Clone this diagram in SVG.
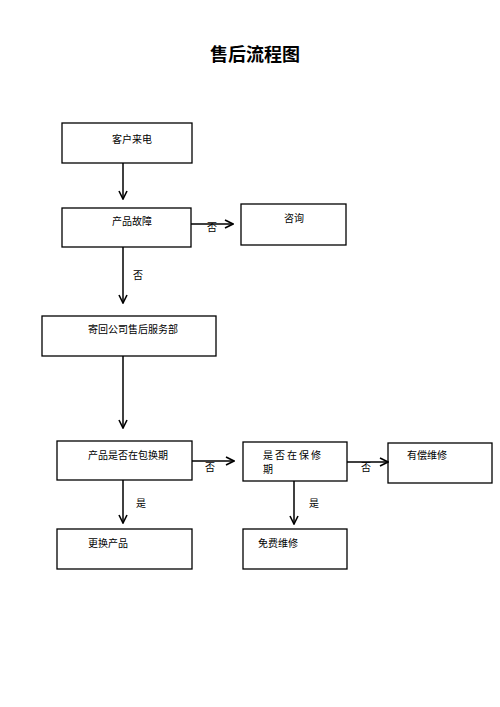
<svg xmlns="http://www.w3.org/2000/svg" width="500" height="707" viewBox="0 0 500 707">
<defs>
<marker id="arr" viewBox="0 0 10 10" refX="9" refY="5" markerWidth="10" markerHeight="10" markerUnits="userSpaceOnUse" orient="auto">
<path d="M1,1 L9,5 L1,9" fill="none" stroke="#000" stroke-width="1.6"/>
</marker>
</defs>
<style>
.box{fill:#fff;stroke:#000;stroke-width:1.3}
.t{font-family:"Noto Sans CJK SC","Liberation Sans",sans-serif;font-size:10px;fill:#000}
.c{stroke:#000;stroke-width:1.5;fill:none;marker-end:url(#arr)}
.title{font-family:"Noto Sans CJK SC","Liberation Sans",sans-serif;font-size:18px;font-weight:bold;fill:#000}
</style>
<rect width="500" height="707" fill="#fff"/>
<text class="title" x="255" y="61" text-anchor="middle">售后流程图</text>
<g id="n1"><rect class="box" x="62" y="123" width="130" height="40"/><text class="t" x="112" y="143">客户来电</text></g>
<g id="n2"><rect class="box" x="62" y="208" width="129" height="39"/><text class="t" x="112" y="225">产品故障</text></g>
<g id="n3"><rect class="box" x="241" y="204" width="105" height="41"/><text class="t" x="284" y="222">咨询</text></g>
<g id="n4"><rect class="box" x="42" y="316" width="174" height="40"/><text class="t" x="88" y="333">寄回公司售后服务部</text></g>
<g id="n5"><rect class="box" x="57" y="441" width="135" height="39"/><text class="t" x="88" y="459">产品是否在包换期</text></g>
<g id="n6"><rect class="box" x="243" y="442" width="104" height="39"/><text class="t" x="263 273 275 285 287 297 299 309 311" y="459">是 否 在 保 修</text><text class="t" x="263" y="473">期</text></g>
<g id="n7"><rect class="box" x="388" y="443" width="104" height="40"/><text class="t" x="407" y="459">有偿维修</text></g>
<g id="n8"><rect class="box" x="57" y="529" width="135" height="40"/><text class="t" x="88" y="547">更换产品</text></g>
<g id="n9"><rect class="box" x="243" y="529" width="104" height="40"/><text class="t" x="258" y="547">免费维修</text></g>
<g id="connectors">
<line class="c" x1="123" y1="163" x2="123" y2="199"/>
<line class="c" x1="191" y1="224" x2="233" y2="224"/>
<line class="c" x1="123" y1="247" x2="123" y2="303"/>
<line class="c" x1="123" y1="356" x2="123" y2="428"/>
<line class="c" x1="192" y1="461" x2="234" y2="461"/>
<line class="c" x1="347" y1="462" x2="388" y2="462"/>
<line class="c" x1="123" y1="480" x2="123" y2="523"/>
<line class="c" x1="294" y1="481" x2="294" y2="524"/>
<text class="t" x="207" y="231">否</text>
<text class="t" x="133" y="279">否</text>
<text class="t" x="205" y="471">否</text>
<text class="t" x="361" y="471">否</text>
<text class="t" x="136" y="507">是</text>
<text class="t" x="309" y="507">是</text>
</g>
</svg>
